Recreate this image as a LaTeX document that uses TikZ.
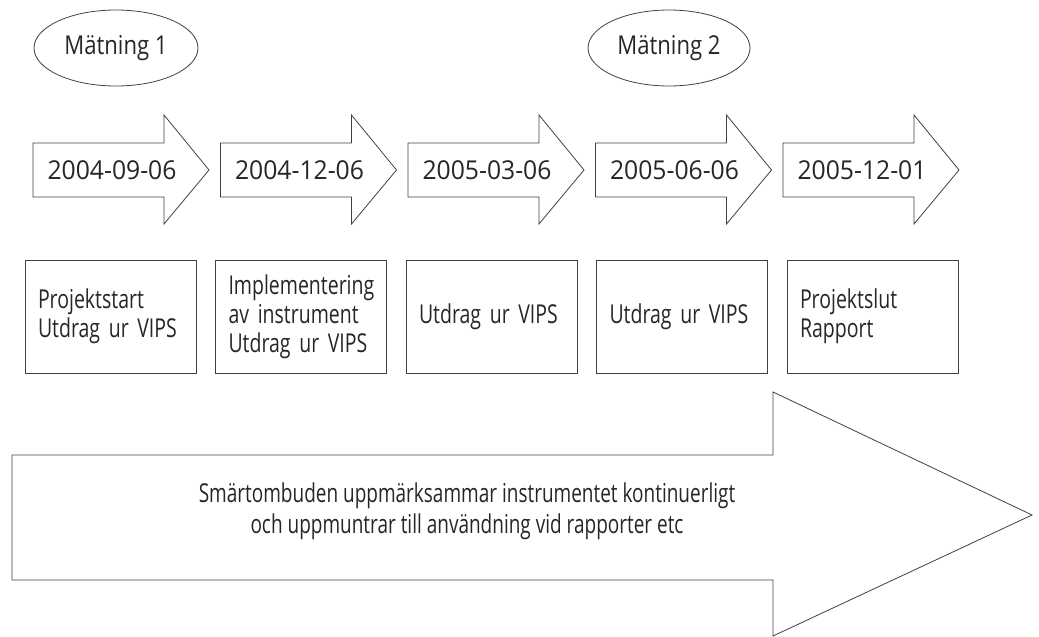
\documentclass[tikz,border=0pt]{standalone}
\usepackage{fontspec}
\setmainfont{Open Sans}[FakeStretch=0.75]
\newfontfamily\datefont{Open Sans}[FakeStretch=0.95]
\newfontfamily\measfont{Open Sans}[FakeStretch=0.85]
\newfontfamily\notefont{Open Sans}[FakeStretch=0.73]
\usetikzlibrary{shapes.geometric,positioning}

\tikzset{
  shapeline/.style={draw=black!75, line width=0.8pt},
  label/.style={font=\fontsize{26}{29}\selectfont, text=black!85},
  datelabel/.style={font=\datefont\fontsize{26}{29}\selectfont, text=black!85},
  measure/.style={shapeline, ellipse, font=\measfont\fontsize{26}{29}\selectfont, text=black!85, minimum width=164, minimum height=76},
  taskbox/.style={shapeline, label, minimum height=113, text width=145, inner xsep=13, align=left}
}

\begin{document}
\hyphenpenalty=10000 \exhyphenpenalty=10000 \hbadness=10000 \hfuzz=50pt
\begin{tikzpicture}[x=1pt, y=-1pt]
  \useasboundingbox (0,0) rectangle (1039,637);

  % Measurement points
  \node[measure] (meas1) at (116,48) {Mätning 1};
  \node[measure, minimum width=162] (meas2) at (669,48) {Mätning 2};

  % Timeline arrows with dates
  \foreach \d [count=\i from 0] in {2004-09-06,2004-12-06,2005-03-06,2005-06-06,2005-12-01} {
    \pgfmathsetmacro\xa{33+187.5*\i}
    \draw[shapeline] (\xa,143) -- ++(131,0) -- ++(0,-28) -- ++(45,55) -- ++(-45,54) -- ++(0,-27) -- ++(-131,0) -- cycle;
    \node[datelabel] (date\i) at (\xa+79,170) {\d};
  }

  % Activities per period
  \foreach \t [count=\i from 0] in {{Projektstart\\Utdrag ur VIPS},{Implementering\\av instrument\\Utdrag ur VIPS},{Utdrag ur VIPS},{Utdrag ur VIPS},{Projektslut\\Rapport}} {
    \node[taskbox] (task\i) at (110.5+190.5*\i,316.5) {\t};
  }

  % Continuous work, big arrow
  \draw[shapeline] (12,455) -- (773,455) -- (773,392) -- (1032,515) -- (773,636) -- (773,580) -- (12,580) -- cycle;
  \node[font=\notefont\fontsize{26}{31}\selectfont, text=black!85, align=center] (ongoing) at (467,511) {Smärtombuden uppmärksammar instrumentet kontinuerligt\\och uppmuntrar till användning vid rapporter etc};
\end{tikzpicture}
\end{document}
